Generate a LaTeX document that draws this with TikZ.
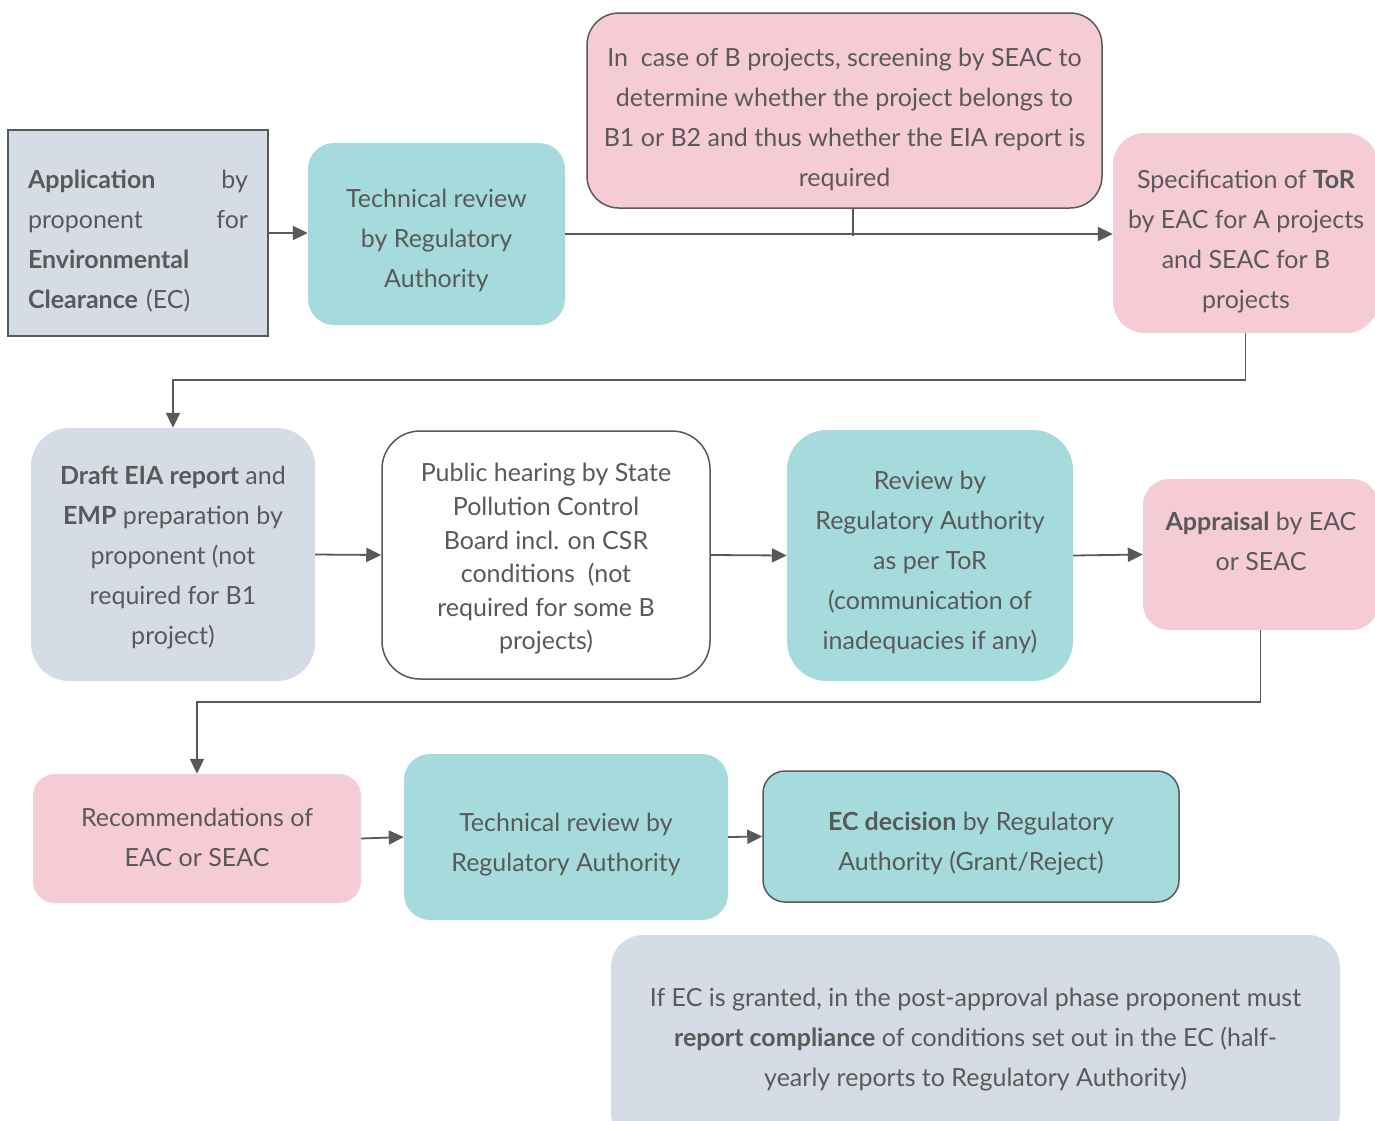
\documentclass[tikz,border=0pt]{standalone}
\usepackage{fontspec}
\setmainfont{Lato}
\usetikzlibrary{arrows.meta}

\definecolor{boxteal}{HTML}{A5DBDC}
\definecolor{boxpink}{HTML}{F5CBD5}
\definecolor{boxgrey}{HTML}{D6DCE5}
\definecolor{inkgrey}{HTML}{595959}

\begin{document}
\begin{tikzpicture}[x=1pt,y=-1pt,
  txt/.style={align=center, text=inkgrey, inner sep=0pt,
    font=\fontsize{25}{40}\selectfont},
  tightxt/.style={txt, font=\fontsize{25}{33.6}\selectfont},
  panel/.style={inner sep=0pt},
  tealbox/.style={panel, fill=boxteal},
  pinkbox/.style={panel, fill=boxpink},
  greybox/.style={panel, fill=boxgrey},
  whitebox/.style={panel, fill=white},
  framed/.style={draw=inkgrey, line width=1.5pt},
  conn/.style={draw=inkgrey, line width=1.8pt},
  arrow/.style={conn, -{Triangle[length=15pt,width=14pt]}}
]
\clip (0,0) rectangle (1375,1120);
\fill[white] (0,0) rectangle (1375,1120);

% first row
\node[greybox, framed, minimum width=260pt, minimum height=206pt] (app) at (138,233) {};
\node[txt, align=left, text width=220pt] (app-t) at (138,241)
  {\textbf{Application}\hfill by\\ proponent\hfill for\\ \textbf{Environmental}\\ \textbf{Clearance} (EC)};
\node[tealbox, rounded corners=26pt, minimum width=257pt, minimum height=182pt] (tr1) at (436.5,234) {};
\node[txt] (tr1-t) at (436.5,240) {Technical review\\by Regulatory\\Authority};
\node[pinkbox, framed, rounded corners=32pt, minimum width=515pt, minimum height=195pt] (screen) at (844.5,110.5) {};
\node[txt] (screen-t) at (844.5,119.5)
  {In~ case of B projects, screening by SEAC to\\determine whether the project belongs to\\B1 or B2 and thus whether the EIA report is\\required};
\node[pinkbox, rounded corners=32pt, minimum width=265pt, minimum height=200pt] (tor) at (1245.5,233) {};
\node[txt] (tor-t) at (1246,242)
  {Specification of \textbf{ToR}\\by EAC for A projects\\and SEAC for B\\projects};

% second row
\node[greybox, rounded corners=38pt, minimum width=284pt, minimum height=253pt] (draft) at (173,554.5) {};
\node[txt] (draft-t) at (173,557.5)
  {\textbf{Draft EIA report} and\\\textbf{EMP} preparation by\\proponent (not\\required for B1\\project)};
\node[whitebox, framed, rounded corners=38pt, minimum width=328pt, minimum height=248pt] (pub) at (546,555) {};
\node[tightxt] (pub-t) at (546,559)
  {Public hearing by State\\Pollution Control\\Board incl. on CSR\\conditions~ (not\\required for some B\\projects)};
\node[tealbox, rounded corners=40pt, minimum width=286pt, minimum height=251pt] (rev) at (930,555.5) {};
\node[txt] (rev-t) at (930,562.5)
  {Review by\\Regulatory Authority\\as per ToR\\(communication of\\inadequacies if any)};
\node[pinkbox, rounded corners=26pt, minimum width=235pt, minimum height=151pt] (appr) at (1260.5,554.5) {};
\node[txt] (appr-t) at (1261,541) {\textbf{Appraisal} by EAC\\or SEAC};

% third row
\node[pinkbox, rounded corners=22pt, minimum width=328pt, minimum height=129pt] (rec) at (197,838.5) {};
\node[txt] (rec-t) at (197,837) {Recommendations of\\EAC or SEAC};
\node[tealbox, rounded corners=26pt, minimum width=324pt, minimum height=166pt] (tr2) at (566,837) {};
\node[txt] (tr2-t) at (566,845) {Technical review by\\Regulatory Authority};
\node[tealbox, framed, rounded corners=22pt, minimum width=416pt, minimum height=131pt] (ec) at (971,836.5) {};
\node[txt] (ec-t) at (971,843.5) {\textbf{EC decision} by Regulatory\\Authority (Grant/Reject)};

% post-approval note
\node[greybox, rounded corners=32pt, minimum width=729pt, minimum height=210pt] (comp) at (975.5,1040) {};
\node[txt] (comp-t) at (975.5,1040)
  {If EC is granted, in the post-approval phase proponent must\\\textbf{report compliance} of conditions set out in the EC (half-\\yearly reports to Regulatory Authority)};

% connectors
\coordinate (tick) at (853,236);
\coordinate (bendA) at (0,380);
\coordinate (bendB) at (0,702);
\draw[arrow] (app.east) -- (tr1.west |- app.east);
\draw[arrow] (tr1.east) -- (tr1.east -| tor.west);
\draw[conn] (screen.south -| tick) -- (tick);
\draw[arrow] (tor.south) -- (tor.south |- bendA) -| (draft.north);
\draw[arrow] (draft.east) -- (pub.west);
\draw[arrow] (pub.east) -- (rev.west);
\draw[arrow] (rev.east) -- (appr.west);
\draw[arrow] (appr.south) -- (appr.south |- bendB) -| (rec.north);
\draw[arrow] (rec.east) -- (tr2.west);
\draw[arrow] (tr2.east) -- (ec.west);
\end{tikzpicture}
\end{document}
